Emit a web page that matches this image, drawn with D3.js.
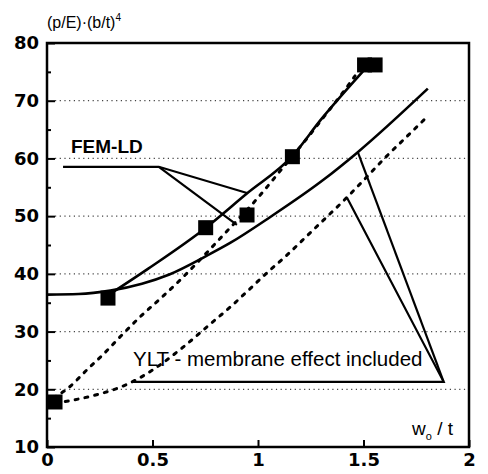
<!DOCTYPE html>
<html>
<head>
<meta charset="utf-8">
<script src="https://cdn.jsdelivr.net/npm/d3@7"></script>
<style>
  body { margin: 0; background: #fff; }
  .tick text { font-family: "DejaVu Sans", sans-serif; font-weight: bold; font-size: 18px; fill: #000; }
  .tick line { stroke: #000; stroke-width: 2; }
</style>
</head>
<body>
<svg id="chart" width="488" height="474"></svg>
<script>
// tick values
var xTicks = [0, 0.5, 1, 1.5, 2];
var yTicks = [10, 20, 30, 40, 50, 60, 70, 80];
var yMinor = [15, 25, 35, 45, 55, 65, 75];
var yGrid  = [20, 30, 40, 50, 60, 70];

// FEM-LD results (squares) and the line through them
var femPoints = [[0.038, 17.8], [0.289, 35.8], [0.752, 48.0], [0.948, 50.2], [1.163, 60.3], [1.505, 76.2], [1.555, 76.2]];
var femLine = [[0.29, 36.3], [0.48, 40.9], [0.75, 47.9], [0.95, 54.0], [1.16, 60.3], [1.3, 66.8], [1.52, 76.0]];

// YLT membrane effect included (solid)
var yltLine = [[0, 36.4], [0.15, 36.5], [0.3, 37.1], [0.45, 38.3], [0.58, 39.9], [0.76, 43.2],
               [0.87, 45.4], [1.06, 49.9], [1.31, 56.3], [1.47, 61.0], [1.805, 72.1]];

// dashed curves
var dashUpper = [[0.03, 18.5], [0.1, 20.2], [0.19, 23.4], [0.265, 26.0], [0.36, 29.6], [0.44, 32.5],
                 [0.54, 35.8], [0.63, 38.9], [0.745, 43.2], [0.84, 46.9], [1.0, 53.2], [1.1, 57.6],
                 [1.235, 63.6], [1.31, 67.1], [1.41, 71.8], [1.46, 74.3]];
var dashLower = [[0.04, 17.6], [0.12, 18.1], [0.24, 19.1], [0.35, 20.4], [0.45, 22.2], [0.55, 24.6],
                 [0.645, 27.3], [0.78, 31.5], [0.867, 34.2], [0.95, 37.0], [1.04, 40.1], [1.13, 43.0],
                 [1.21, 45.8], [1.29, 48.6], [1.42, 53.2], [1.5, 56.2], [1.61, 60.4], [1.70, 63.6],
                 [1.79, 66.8]];

// leader lines of the two labels
var femLeader = [[[0.076, 58.55], [0.53, 58.55], [0.948, 54.0]], [[0.53, 58.55], [0.90, 48.5]]];
var yltLeader = [[[0.408, 21.3], [1.88, 21.3], [1.422, 53.2]], [[1.88, 21.3], [1.474, 61.0]]];

var svg = d3.select("#chart");

var x = d3.scaleLinear().domain([0, 2]).range([47, 469]);
var y = d3.scaleLinear().domain([10, 80]).range([447, 43]);

var line = d3.line()
    .x(function(d) { return x(d[0]); })
    .y(function(d) { return y(d[1]); })
    .curve(d3.curveMonotoneX);

var straight = d3.line()
    .x(function(d) { return x(d[0]); })
    .y(function(d) { return y(d[1]); });

// dotted grid
svg.append("g").selectAll("line")
    .data(yGrid)
  .enter().append("line")
    .attr("x1", x(0) + 8).attr("x2", x(2) - 3)
    .attr("y1", function(d) { return y(d); })
    .attr("y2", function(d) { return y(d); })
    .attr("stroke", "#444")
    .attr("stroke-width", 1.2)
    .attr("stroke-dasharray", "1.2,3.5");

// minor y ticks
svg.append("g")
    .attr("transform", "translate(" + x(0) + ",0)")
    .call(d3.axisLeft(y).tickValues(yMinor).tickSize(-4).tickFormat(""))
    .call(function(g) { g.select(".domain").remove(); });

// y axis
svg.append("g")
    .attr("transform", "translate(" + x(0) + ",0)")
    .call(d3.axisLeft(y).tickValues(yTicks).tickSize(-8).tickPadding(8).tickFormat(d3.format("d")))
    .call(function(g) { g.select(".domain").remove(); });

// x axis
svg.append("g")
    .attr("transform", "translate(0," + y(10) + ")")
    .call(d3.axisBottom(x).tickValues(xTicks).tickSize(-7).tickPadding(6).tickFormat(d3.format("")))
    .call(function(g) { g.select(".domain").remove(); });

// frame
svg.append("rect")
    .attr("x", x(0)).attr("y", y(80))
    .attr("width", x(2) - x(0)).attr("height", y(10) - y(80))
    .attr("fill", "none")
    .attr("stroke", "#000")
    .attr("stroke-width", 2.5);

// dashed curves
[dashUpper, dashLower].forEach(function(d) {
  svg.append("path")
      .datum(d)
      .attr("d", line)
      .attr("fill", "none")
      .attr("stroke", "#000")
      .attr("stroke-width", 3)
      .attr("stroke-linecap", "round")
      .attr("stroke-dasharray", "3,7");
});

// solid curves
[yltLine, femLine].forEach(function(d) {
  svg.append("path")
      .datum(d)
      .attr("d", line)
      .attr("fill", "none")
      .attr("stroke", "#000")
      .attr("stroke-width", 2.6);
});

// leader lines
femLeader.concat(yltLeader).forEach(function(d) {
  svg.append("path")
      .datum(d)
      .attr("d", straight)
      .attr("fill", "none")
      .attr("stroke", "#000")
      .attr("stroke-width", 2.2)
      .attr("stroke-linejoin", "miter");
});

// squares
var sq = 15;
svg.append("g").selectAll("rect")
    .data(femPoints)
  .enter().append("rect")
    .attr("x", function(d) { return x(d[0]) - sq / 2; })
    .attr("y", function(d) { return y(d[1]) - sq / 2; })
    .attr("width", sq).attr("height", sq)
    .attr("fill", "#000");

// labels
var title = svg.append("text")
    .attr("x", 47).attr("y", 28)
    .style("font-family", "'Liberation Sans', Arial, sans-serif")
    .style("font-size", "16px");
title.append("tspan").text("(p/E)\u00b7(b/t)");
title.append("tspan").attr("dy", -7).style("font-size", "10px").text("4");

var xTitle = svg.append("text")
    .attr("x", 412).attr("y", 435)
    .style("font-family", "'Liberation Sans', Arial, sans-serif")
    .style("font-size", "19px");
xTitle.append("tspan").text("w");
xTitle.append("tspan").attr("dy", 5).style("font-size", "11px").text("o");
xTitle.append("tspan").attr("dy", -5).text(" / t");

svg.append("text")
    .attr("x", 71).attr("y", 153)
    .style("font-family", "'Liberation Sans', Arial, sans-serif")
    .style("font-weight", "bold")
    .style("font-size", "19px")
    .text("FEM-LD");

svg.append("text")
    .attr("x", 133).attr("y", 366)
    .style("font-family", "'Liberation Sans', Arial, sans-serif")
    .style("font-size", "20.5px")
    .text("YLT - membrane effect included");
</script>
</body>
</html>
